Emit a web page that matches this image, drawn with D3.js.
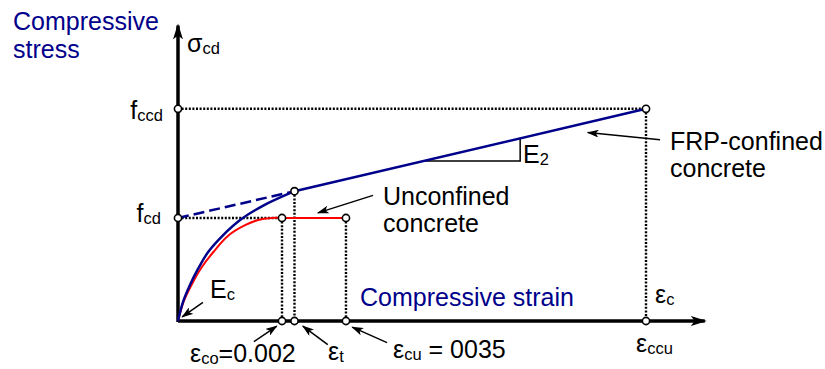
<!DOCTYPE html>
<html>
<head>
<meta charset="utf-8">
<script src="https://cdn.jsdelivr.net/npm/d3@7"></script>
<style>
  body { margin: 0; background: #fff; }
  text { font-family: "Liberation Sans", Arial, sans-serif; }
</style>
</head>
<body>
<svg id="chart" width="825" height="369"></svg>
<script>
// Schematic values: strain in per mille, stress relative to fcd
var epsCo = 2.0;
var epsT = 2.24;
var epsCu = 3.23;
var epsCcu = 9.0;
var fcd = 1.0;
var sigT = 1.26;
var fccd = 2.06;

// FRP-confined curve (parabolic part), then straight line
var confinedCurve = [[0, 0], [0.10, 0.19], [0.23, 0.35], [0.39, 0.51], [0.58, 0.67], [0.86, 0.83],
                     [1.22, 0.99], [1.64, 1.12], [2.24, 1.26]];
var confinedLine = [[2.24, 1.26], [9.0, 2.06]];
var dashedLine = [[0, 1.0], [2.24, 1.26]];

// Unconfined concrete curve
var unconfinedCurve = [[0, 0], [0.11, 0.19], [0.26, 0.35], [0.44, 0.51], [0.68, 0.67], [0.97, 0.83],
                       [1.29, 0.93], [1.54, 0.98], [1.80, 1.0], [2.0, 1.0]];
var unconfinedFlat = [[2.0, 1.0], [3.23, 1.0]];

// E2 slope triangle
var slopeTriangle = [[4.71, 1.554], [6.58, 1.554], [6.58, 1.78]];

// marked points (strain, stress)
var markers = [[0, fccd], [0, fcd], [epsCo, fcd], [epsT, sigT], [epsCu, fcd], [epsCcu, fccd],
               [epsCo, 0], [epsT, 0], [epsCu, 0], [epsCcu, 0]];

// annotation arrows: [from, to]
var arrows = [
  [[0.48, 0.18], [0.08, 0.04]],
  [[1.46, -0.20], [1.90, -0.05]],
  [[2.88, -0.23], [2.40, -0.05]],
  [[4.02, -0.21], [3.35, -0.06]],
  [[3.75, 1.22], [2.69, 1.05]],
  [[9.27, 1.76], [7.88, 1.83]]
];

var width = 825;
var height = 369;
var svg = d3.select("#chart");

// scales
var x = d3.scaleLinear().domain([0, 10]).range([178, 698]);
var y = d3.scaleLinear().domain([0, 3]).range([321, 12]);

var line = d3.line()
  .x(function (d) { return x(d[0]); })
  .y(function (d) { return y(d[1]); });

var curve = d3.line()
  .x(function (d) { return x(d[0]); })
  .y(function (d) { return y(d[1]); })
  .curve(d3.curveCatmullRom.alpha(0.5));

var defs = svg.append("defs");
defs.append("marker")
  .attr("id", "axisHead")
  .attr("viewBox", "0 0 16 10")
  .attr("refX", 14)
  .attr("refY", 5)
  .attr("markerWidth", 16)
  .attr("markerHeight", 10)
  .attr("markerUnits", "userSpaceOnUse")
  .attr("orient", "auto")
  .append("path")
  .attr("d", "M0,0 L16,5 L0,10 L4,5 Z")
  .attr("fill", "#000");

defs.append("marker")
  .attr("id", "smallHead")
  .attr("viewBox", "0 0 12 8")
  .attr("refX", 11)
  .attr("refY", 4)
  .attr("markerWidth", 12)
  .attr("markerHeight", 8)
  .attr("markerUnits", "userSpaceOnUse")
  .attr("orient", "auto")
  .append("path")
  .attr("d", "M0,0 L12,4 L0,8 L3,4 Z")
  .attr("fill", "#000");

// dotted guide lines
var guides = [
  [[0, fccd], [epsCcu, fccd]],
  [[0, fcd], [epsCo, fcd]],
  [[epsCo, fcd], [epsCo, 0]],
  [[epsT, sigT], [epsT, 0]],
  [[epsCu, fcd], [epsCu, 0]],
  [[epsCcu, fccd], [epsCcu, 0]]
];
svg.selectAll(".guide")
  .data(guides)
  .enter()
  .append("path")
  .attr("class", "guide")
  .attr("d", line)
  .attr("fill", "none")
  .attr("stroke", "#000")
  .attr("stroke-width", 2.4)
  .attr("stroke-dasharray", "2,1.6");

// axes
svg.append("path")
  .attr("d", line([[0, 0], [10.13, 0]]))
  .attr("stroke", "#000")
  .attr("stroke-width", 3.5)
  .attr("marker-end", "url(#axisHead)");
svg.append("path")
  .attr("d", line([[0, -0.01], [0, 2.87]]))
  .attr("stroke", "#000")
  .attr("stroke-width", 3.5)
  .attr("marker-end", "url(#axisHead)");

// slope triangle
svg.append("path")
  .attr("d", line(slopeTriangle))
  .attr("fill", "none")
  .attr("stroke", "#000")
  .attr("stroke-width", 1.5);

// curves
svg.append("path")
  .attr("d", line(dashedLine))
  .attr("fill", "none")
  .attr("stroke", "#00008b")
  .attr("stroke-width", 2.5)
  .attr("stroke-dasharray", "11,5");
svg.append("path")
  .attr("d", curve(unconfinedCurve))
  .attr("fill", "none")
  .attr("stroke", "#ff0000")
  .attr("stroke-width", 2);
svg.append("path")
  .attr("d", line(unconfinedFlat))
  .attr("fill", "none")
  .attr("stroke", "#ff0000")
  .attr("stroke-width", 2);
svg.append("path")
  .attr("d", curve(confinedCurve))
  .attr("fill", "none")
  .attr("stroke", "#00008b")
  .attr("stroke-width", 2.5);
svg.append("path")
  .attr("d", line(confinedLine))
  .attr("fill", "none")
  .attr("stroke", "#00008b")
  .attr("stroke-width", 2.5);

// annotation arrows
svg.selectAll(".arrow")
  .data(arrows)
  .enter()
  .append("path")
  .attr("class", "arrow")
  .attr("d", line)
  .attr("stroke", "#000")
  .attr("stroke-width", 1.5)
  .attr("marker-end", "url(#smallHead)");

// point markers
svg.selectAll(".pt")
  .data(markers)
  .enter()
  .append("circle")
  .attr("class", "pt")
  .attr("cx", function (d) { return x(d[0]); })
  .attr("cy", function (d) { return y(d[1]); })
  .attr("r", 3.6)
  .attr("fill", "#fff")
  .attr("stroke", "#000")
  .attr("stroke-width", 1.6);

// labels: [text, subscript, rest, x, y, anchor, color]
var labels = [
  ["Compressive", "", "", 13, 30, "start", "#00008b"],
  ["stress", "", "", 13, 58, "start", "#00008b"],
  ["σ", "cd", "", 187, 52, "start", "#000"],
  ["f", "ccd", "", 163, 119, "end", "#000"],
  ["f", "cd", "", 161, 222, "end", "#000"],
  ["E", "c", "", 210, 298, "start", "#000"],
  ["Compressive strain", "", "", 360, 306, "start", "#00008b"],
  ["ε", "c", "", 655, 303, "start", "#000"],
  ["ε", "ccu", "", 636, 352, "start", "#000"],
  ["ε", "co", "=0.002", 190, 362, "start", "#000"],
  ["ε", "t", "", 328, 360, "start", "#000"],
  ["ε", "cu", " = 0035", 393, 358, "start", "#000"],
  ["Unconfined", "", "", 383, 205, "start", "#000"],
  ["concrete", "", "", 383, 232, "start", "#000"],
  ["FRP-confined", "", "", 670, 150, "start", "#000"],
  ["concrete", "", "", 670, 177, "start", "#000"],
  ["E", "2", "", 523, 163, "start", "#000"]
];

var texts = svg.selectAll(".label")
  .data(labels)
  .enter()
  .append("text")
  .attr("class", "label")
  .attr("x", function (d) { return d[3]; })
  .attr("y", function (d) { return d[4]; })
  .attr("text-anchor", function (d) { return d[5]; })
  .attr("fill", function (d) { return d[6]; })
  .attr("font-size", 25)
  .style("white-space", "pre");

texts.append("tspan").text(function (d) { return d[0]; });
texts.filter(function (d) { return d[1] !== ""; })
  .append("tspan")
  .attr("font-size", 16.5)
  .attr("dy", 2)
  .text(function (d) { return d[1]; });
texts.filter(function (d) { return d[2] !== ""; })
  .append("tspan")
  .attr("dy", -2)
  .text(function (d) { return d[2]; });
</script>
</body>
</html>
